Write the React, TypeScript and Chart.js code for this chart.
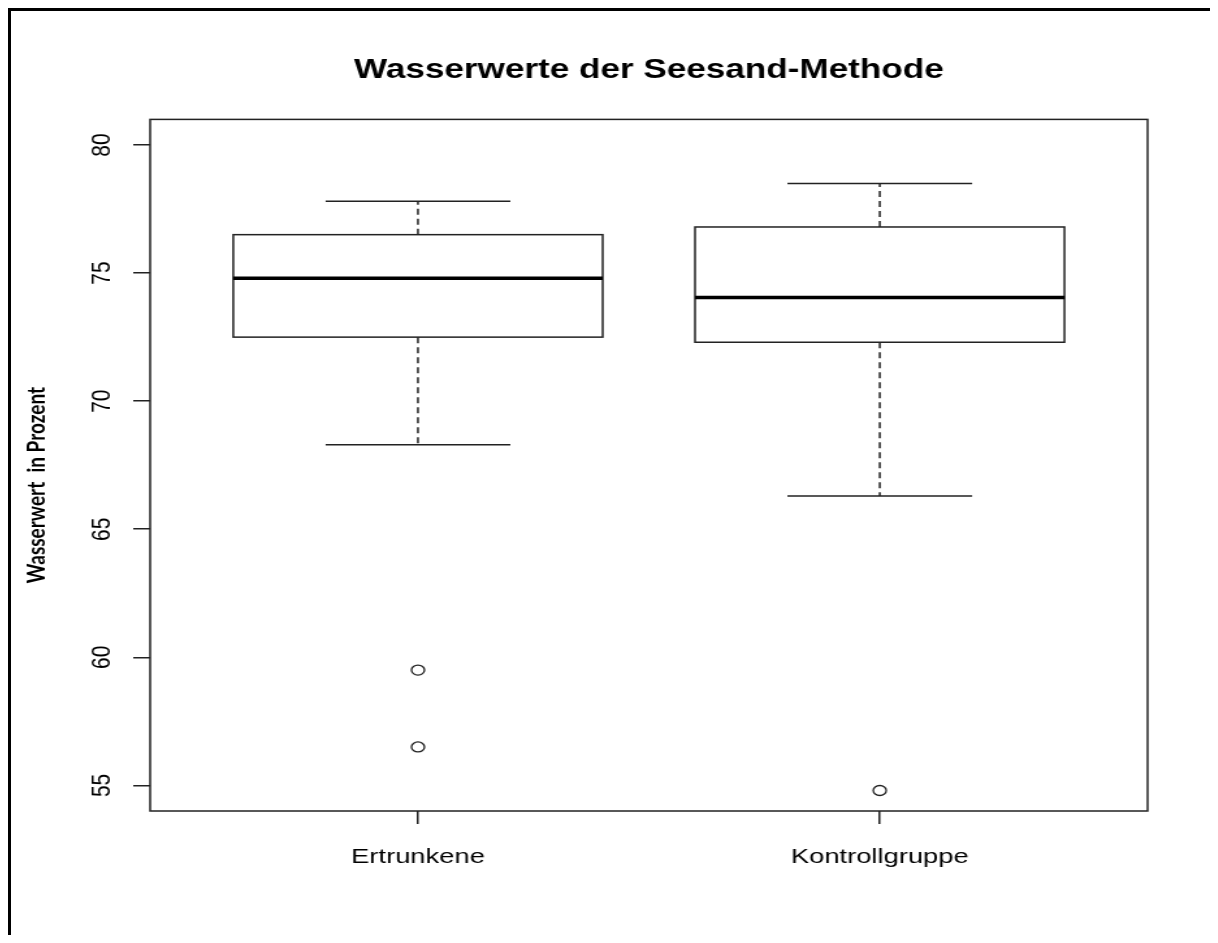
import React, { useEffect, useRef } from 'react';
import { Chart, registerables } from 'chart.js';

Chart.register(...registerables);

// Box-plot statistics per group
const groups = ['Ertrunkene', 'Kontrollgruppe'];
const lowerWhisker = [68.3, 66.3];
const lowerQuartile = [72.5, 72.3];
const medians = [74.8, 74.05];
const upperQuartile = [76.5, 76.8];
const upperWhisker = [77.8, 78.5];
const outliers = [[59.5, 56.5], [54.8]];

// Axis settings
const yTicks = [55, 60, 65, 70, 75, 80];
const yLimits = [55, 80];

const chartTitle = 'Wasserwerte der Seesand-Methode';
const yAxisTitle = 'Wasserwert  in Prozent';

// R-style 4% expansion of the axis ranges
const ySpan = yLimits[1] - yLimits[0];
const yMin = yLimits[0] - 0.04 * ySpan;
const yMax = yLimits[1] + 0.04 * ySpan;
const xSpan = groups.length;
const xMin = 0.5 - 0.04 * xSpan;
const xMax = groups.length + 0.5 + 0.04 * xSpan;

// The plot is drawn on a narrower bitmap and widened by CSS
const CANVAS_W = 922;
const CANVAS_H = 924;
const DISPLAY_W = 1199;

const BOX_HALF = 0.4;
const STAPLE_HALF = 0.2;

const outlierPoints = outliers.flatMap((vals, i) => vals.map((v) => ({ x: i + 1, y: v })));

const sansFont = "'Liberation Sans', Arial, sans-serif";

const boxPlotPlugin = {
  id: 'boxPlot',
  beforeDatasetsDraw(chart: any) {
    const { ctx, scales } = chart;
    const x = scales.x;
    const y = scales.y;
    const py = (v: number) => y.getPixelForValue(v);
    const seg = (x1: number, y1: number, x2: number, y2: number) => {
      ctx.beginPath();
      ctx.moveTo(x1, y1);
      ctx.lineTo(x2, y2);
      ctx.stroke();
    };
    ctx.save();
    groups.forEach((_, i) => {
      const c = i + 1;
      const xl = x.getPixelForValue(c - BOX_HALF);
      const xr = x.getPixelForValue(c + BOX_HALF);
      const xc = x.getPixelForValue(c);
      const sl = x.getPixelForValue(c - STAPLE_HALF);
      const sr = x.getPixelForValue(c + STAPLE_HALF);

      ctx.strokeStyle = '#222';
      ctx.lineWidth = 1.5;

      // dashed whiskers, drawn from the box outwards
      ctx.setLineDash([6, 4]);
      seg(xc, py(upperQuartile[i]), xc, py(upperWhisker[i]));
      seg(xc, py(lowerQuartile[i]), xc, py(lowerWhisker[i]));
      ctx.setLineDash([]);

      // staples
      seg(sl, py(upperWhisker[i]), sr, py(upperWhisker[i]));
      seg(sl, py(lowerWhisker[i]), sr, py(lowerWhisker[i]));

      // box
      ctx.strokeRect(xl, py(upperQuartile[i]), xr - xl, py(lowerQuartile[i]) - py(upperQuartile[i]));

      // median
      ctx.strokeStyle = '#000';
      ctx.lineWidth = 3.5;
      seg(xl, py(medians[i]), xr, py(medians[i]));
    });
    ctx.restore();
  },
  afterDraw(chart: any) {
    const { ctx, chartArea } = chart;
    ctx.save();
    // plot frame
    ctx.strokeStyle = '#222';
    ctx.lineWidth = 1.5;
    ctx.strokeRect(chartArea.left, chartArea.top, chartArea.right - chartArea.left, chartArea.bottom - chartArea.top);

    // y axis title
    ctx.translate(20, (chartArea.top + chartArea.bottom) / 2 + 20);
    ctx.rotate(-Math.PI / 2);
    ctx.fillStyle = '#000';
    ctx.font = "bold 19px Lato, 'Open Sans', sans-serif";
    ctx.textAlign = 'center';
    ctx.textBaseline = 'middle';
    ctx.fillText(yAxisTitle, 0, 0);
    ctx.restore();
  },
};

export default function App() {
  const canvasRef = useRef<HTMLCanvasElement | null>(null);

  useEffect(() => {
    const canvas = canvasRef.current;
    if (!canvas) return;
    const chart = new Chart(canvas, {
      type: 'scatter',
      data: {
        datasets: [
          {
            data: outlierPoints,
            pointStyle: 'circle',
            pointRadius: 5,
            pointHoverRadius: 5,
            pointBorderWidth: 1.3,
            borderColor: '#222',
            backgroundColor: 'rgba(0,0,0,0)',
          },
        ],
      },
      options: {
        responsive: false,
        animation: false,
        devicePixelRatio: 1,
        events: [],
        layout: { padding: { left: 0, right: 48, top: 0, bottom: 0 } },
        plugins: {
          legend: { display: false },
          tooltip: { enabled: false },
          title: {
            display: true,
            text: chartTitle,
            fullSize: false,
            color: '#000',
            font: { family: sansFont, size: 27, weight: 'bold' },
            padding: { top: 43, bottom: 33 },
          },
        },
        scales: {
          x: {
            type: 'linear',
            min: xMin,
            max: xMax,
            afterBuildTicks: (s: any) => {
              s.ticks = groups.map((_, i) => ({ value: i + 1 }));
            },
            afterFit: (s: any) => {
              s.height = 124;
            },
            ticks: {
              callback: (_v: any, index: number) => groups[index] ?? '',
              color: '#000',
              font: { family: sansFont, size: 21 },
              padding: 21,
              maxRotation: 0,
              autoSkip: false,
            },
            grid: { drawOnChartArea: false, drawTicks: true, tickLength: 13, color: '#222', lineWidth: 1.5 },
            border: { display: false },
          },
          y: {
            type: 'linear',
            min: yMin,
            max: yMax,
            afterBuildTicks: (s: any) => {
              s.ticks = yTicks.map((v) => ({ value: v }));
            },
            afterFit: (s: any) => {
              s.width = 107;
            },
            ticks: {
              minRotation: 90,
              maxRotation: 90,
              crossAlign: 'center',
              padding: 12,
              color: '#000',
              font: { family: sansFont, size: 21 },
              autoSkip: false,
            },
            grid: { drawOnChartArea: false, drawTicks: true, tickLength: 13, color: '#222', lineWidth: 1.5 },
            border: { display: false },
          },
        },
      },
      plugins: [boxPlotPlugin],
    } as any);
    return () => chart.destroy();
  }, []);

  return (
    <div
      style={{
        borderLeft: '3px solid #000',
        borderTop: '3px solid #000',
        width: DISPLAY_W,
        height: CANVAS_H,
        background: '#fff',
      }}
    >
      <canvas
        ref={canvasRef}
        width={CANVAS_W}
        height={CANVAS_H}
        style={{ width: `${DISPLAY_W}px`, height: `${CANVAS_H}px`, display: 'block' }}
      />
    </div>
  );
}
